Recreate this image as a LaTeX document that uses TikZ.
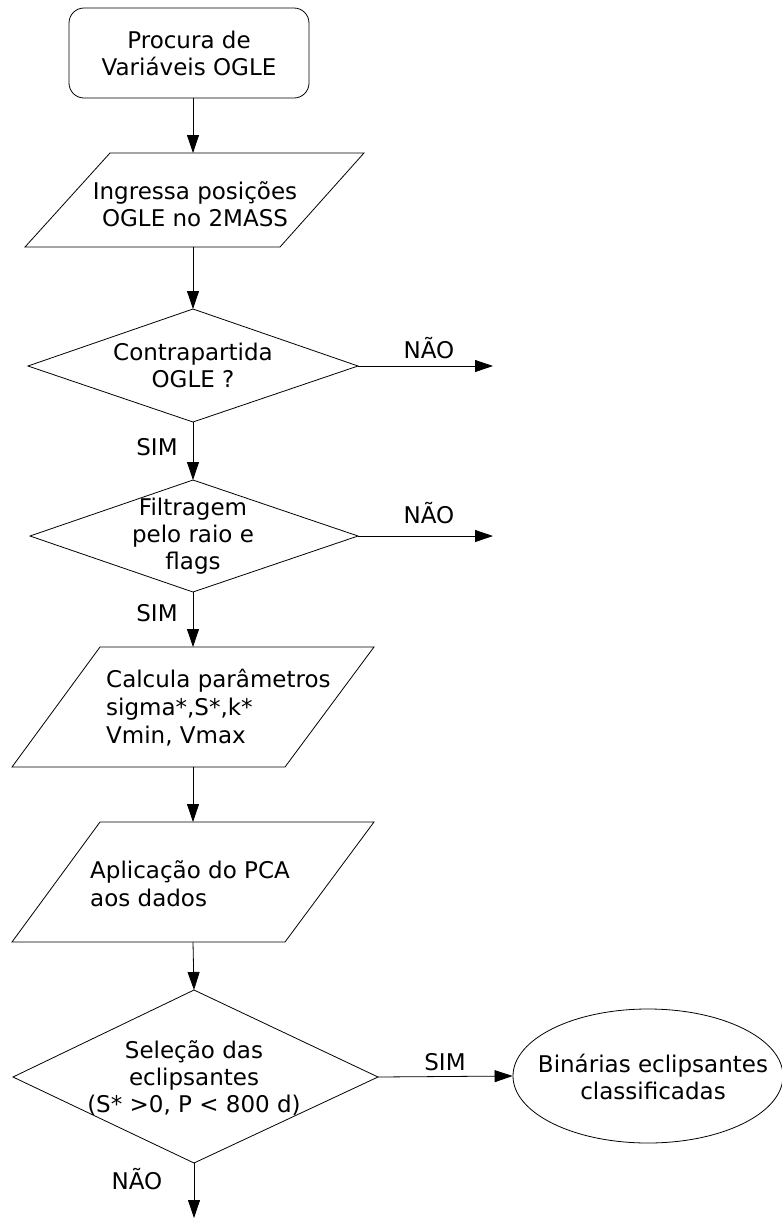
\documentclass[tikz,border=0pt]{standalone}
\usepackage{fontspec}
\setmainfont{DejaVu Sans}
\usetikzlibrary{arrows.meta,shapes.geometric}
\begin{document}
\begin{tikzpicture}[x=1pt,y=-1pt,
  shp/.style={draw=black,line width=0.8pt},
  conn/.style={draw=black,line width=0.8pt,-{Triangle[length=18pt,width=12pt]}},
  txt/.style={font=\fontsize{23}{27}\selectfont,align=center,inner sep=0pt},
  ltxt/.style={font=\fontsize{23}{28}\selectfont,align=left,inner sep=0pt,anchor=west},
  lbl/.style={font=\fontsize{23}{27}\selectfont,inner sep=0pt}]
\useasboundingbox (0,0) rectangle (782,1219);

% start box
\node[shp,rounded corners=15pt,minimum width=240pt,minimum height=90pt,txt] (start) at (189,53) {Procura de\\Variáveis OGLE};
\coordinate (startb) at (193,98);

% parallelogram 1
\coordinate (p1t) at (193,153);
\coordinate (p1b) at (193,247);
\draw[shp] (110,153) -- (364,153) -- (280,247) -- (25,247) -- cycle;
\node[txt] (ingressa) at (195,204) {Ingressa posições\\OGLE no 2MASS};

% diamond 1
\coordinate (d1t) at (193,309);
\coordinate (d1r) at (358,366);
\coordinate (d1b) at (193,422);
\coordinate (d1l) at (28,366);
\draw[shp] (d1t) -- (d1r) -- (d1b) -- (d1l) -- cycle;
\node[txt] (contra) at (193,365) {Contrapartida\\OGLE ?};
\coordinate (n1) at (493,366);
\node[lbl] (nao1) at (429,348) {NÃO};
\node[lbl] (sim1) at (157,447) {SIM};

% diamond 2
\coordinate (d2t) at (193,480);
\coordinate (d2r) at (358,536);
\coordinate (d2b) at (193,592);
\coordinate (d2l) at (30,536);
\draw[shp] (d2t) -- (d2r) -- (d2b) -- (d2l) -- cycle;
\node[txt] (filtra) at (193,536) {Filtragem\\pelo raio e\\flags};
\coordinate (n2) at (493,536);
\node[lbl] (nao2) at (429,513) {NÃO};
\node[lbl] (sim2) at (157,613) {SIM};

% parallelogram 2
\coordinate (p2t) at (193,647);
\coordinate (p2b) at (193,767);
\draw[shp] (100,647) -- (374,647) -- (285,767) -- (12,767) -- cycle;
\node[ltxt] (calcula) at (106,708) {Calcula parâmetros\\sigma*,S*,k*\\Vmin, Vmax};

% parallelogram 3
\coordinate (p3t) at (193,822);
\coordinate (p3b) at (193,942);
\draw[shp] (100,822) -- (374,822) -- (285,942) -- (12,942) -- cycle;
\node[ltxt] (pca) at (90,884) {Aplicação do PCA\\aos dados};

% diamond 3
\coordinate (d3t) at (194,990);
\coordinate (d3r) at (378,1077);
\coordinate (d3b) at (194,1163);
\coordinate (d3l) at (13,1077);
\draw[shp] (d3t) -- (d3r) -- (d3b) -- (d3l) -- cycle;
\node[txt] (selecao) at (194,1078) {Seleção das\\eclipsantes\\(S* >0, P < 800 d)};
\node[lbl] (sim3) at (445,1062) {SIM};
\node[lbl] (nao3) at (137,1179) {NÃO};
\coordinate (n3) at (194,1218);

% ellipse
\node[shp,ellipse,minimum width=270pt,minimum height=134pt,inner sep=0pt] (fim) at (648,1076) {};
\node[txt] (fimtxt) at (653,1077) {Binárias eclipsantes\\classificadas};

% connectors
\draw[conn] (startb) -- (p1t);
\draw[conn] (p1b) -- (d1t);
\draw[conn] (d1r) -- (n1);
\draw[conn] (d1b) -- (d2t);
\draw[conn] (d2r) -- (n2);
\draw[conn] (d2b) -- (p2t);
\draw[conn] (p2b) -- (p3t);
\draw[conn] (p3b) -- (d3t);
\draw[conn] (d3r) -- (fim.west);
\draw[conn] (d3b) -- (n3);
\end{tikzpicture}
\end{document}
